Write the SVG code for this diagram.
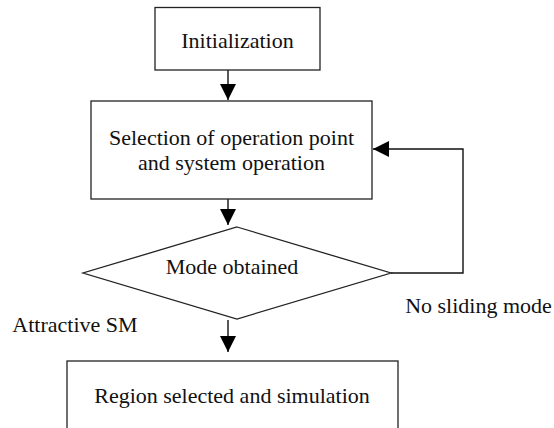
<svg xmlns="http://www.w3.org/2000/svg" width="554" height="428" viewBox="0 0 554 428">
<style>
.box{fill:#fff;stroke:#222;stroke-width:1.3}
.ln{fill:none;stroke:#111;stroke-width:1.4}
text{font-family:"Liberation Serif","Times New Roman",serif;font-size:22px;fill:#111}
.c{text-anchor:middle}
</style>
<defs>
<marker id="ah" markerUnits="userSpaceOnUse" markerWidth="16" markerHeight="16" viewBox="0 0 14 14" refX="14" refY="7" orient="auto">
<path d="M0,0 L14,7 L0,14 Z" fill="#000"/>
</marker>
</defs>
<rect width="554" height="428" fill="#fff"/>
<g id="connectors">
<line class="ln" x1="228" y1="70" x2="228" y2="100" marker-end="url(#ah)"/>
<line class="ln" x1="228" y1="178" x2="228" y2="225" marker-end="url(#ah)"/>
<line class="ln" x1="228" y1="320" x2="228" y2="352" marker-end="url(#ah)"/>
<polyline class="ln" points="391,273 463,273 463,149 373,149" marker-end="url(#ah)"/>
</g>
<g id="init">
<rect class="box" x="155" y="7.5" width="165" height="62.5"/>
<text class="c" x="237.5" y="48">Initialization</text>
</g>
<g id="selection">
<rect class="box" x="91" y="101" width="281" height="98"/>
<text class="c" x="231.5" y="145">Selection of operation point</text>
<text class="c" x="231.5" y="170">and system operation</text>
</g>
<g id="mode">
<polygon class="box" points="237,227 391,273 237,319 83,273"/>
<text class="c" x="232" y="274">Mode obtained</text>
</g>
<g id="label-attractive">
<text class="c" x="75" y="332">Attractive SM</text>
</g>
<g id="label-nosliding">
<text class="c" x="478.5" y="313">No sliding mode</text>
</g>
<g id="region">
<rect class="box" x="67" y="361" width="331" height="80"/>
<text class="c" x="232" y="403">Region selected and simulation</text>
</g>
</svg>
